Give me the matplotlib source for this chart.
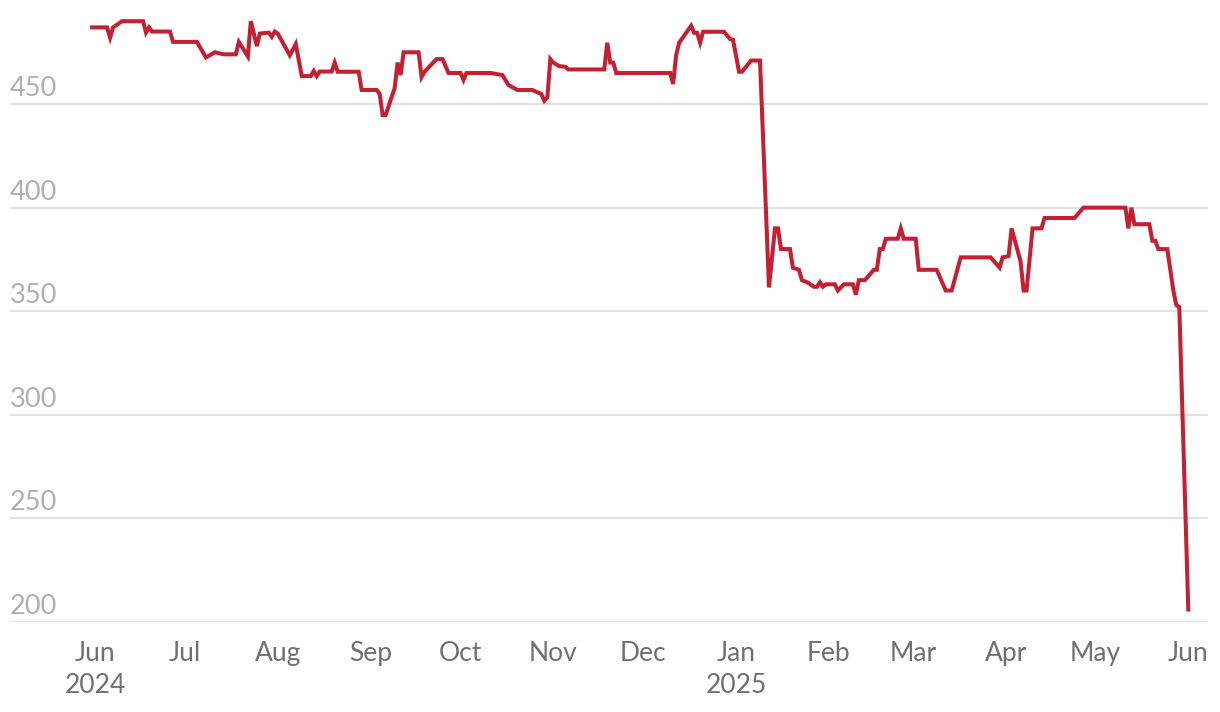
import matplotlib
matplotlib.use("Agg")
import matplotlib.pyplot as plt
import matplotlib.dates as mdates
import matplotlib.transforms as mtransforms
import numpy as np
import pandas as pd

plt.rcParams['font.family'] = ['Lato', 'DejaVu Sans']

dates = [
    "2024-05-31", "2024-06-05", "2024-06-06", "2024-06-07", "2024-06-10", "2024-06-17",
    "2024-06-18", "2024-06-19", "2024-06-20", "2024-06-26", "2024-06-27", "2024-07-05",
    "2024-07-08", "2024-07-11", "2024-07-14", "2024-07-18", "2024-07-19", "2024-07-22",
    "2024-07-23", "2024-07-25", "2024-07-26", "2024-07-29", "2024-07-30", "2024-07-31",
    "2024-08-01", "2024-08-05", "2024-08-07", "2024-08-09", "2024-08-12", "2024-08-13",
    "2024-08-14", "2024-08-15", "2024-08-19", "2024-08-20", "2024-08-21", "2024-08-28",
    "2024-08-29", "2024-09-03", "2024-09-04", "2024-09-05", "2024-09-06", "2024-09-09",
    "2024-09-10", "2024-09-11", "2024-09-12", "2024-09-17", "2024-09-18", "2024-09-19",
    "2024-09-23", "2024-09-25", "2024-09-27", "2024-10-01", "2024-10-02", "2024-10-03",
    "2024-10-11", "2024-10-15", "2024-10-17", "2024-10-18", "2024-10-20", "2024-10-25",
    "2024-10-28", "2024-10-29", "2024-10-30", "2024-10-31", "2024-11-01", "2024-11-03",
    "2024-11-05", "2024-11-06", "2024-11-18", "2024-11-19", "2024-11-20", "2024-11-21",
    "2024-11-22", "2024-12-10", "2024-12-11", "2024-12-12", "2024-12-13", "2024-12-17",
    "2024-12-18", "2024-12-19", "2024-12-20", "2024-12-21", "2024-12-28", "2024-12-30",
    "2024-12-31", "2025-01-02", "2025-01-03", "2025-01-06", "2025-01-09", "2025-01-12",
    "2025-01-14", "2025-01-15", "2025-01-16", "2025-01-19", "2025-01-20", "2025-01-22",
    "2025-01-23", "2025-01-25", "2025-01-27", "2025-01-28", "2025-01-29", "2025-01-30",
    "2025-01-31", "2025-02-03", "2025-02-04", "2025-02-06", "2025-02-09", "2025-02-10",
    "2025-02-11", "2025-02-13", "2025-02-15", "2025-02-16", "2025-02-17", "2025-02-18",
    "2025-02-19", "2025-02-20", "2025-02-24", "2025-02-25", "2025-02-26", "2025-03-02",
    "2025-03-03", "2025-03-09", "2025-03-12", "2025-03-14", "2025-03-17", "2025-03-27",
    "2025-03-30", "2025-03-31", "2025-04-02", "2025-04-03", "2025-04-06", "2025-04-07",
    "2025-04-08", "2025-04-10", "2025-04-13", "2025-04-14", "2025-04-24", "2025-04-27",
    "2025-05-11", "2025-05-12", "2025-05-13", "2025-05-14", "2025-05-19", "2025-05-20",
    "2025-05-21", "2025-05-22", "2025-05-25", "2025-05-27", "2025-05-28", "2025-05-29",
    "2025-06-01",
]

values = [
    487, 487, 482, 487, 490, 490,
    484.5, 487, 485, 485, 480, 480,
    472.5, 475, 474, 474, 480, 473,
    490, 478, 484, 484.5, 482.5, 485,
    484, 473.5, 479, 463.5, 463.5, 466,
    463.5, 465.7, 465.7, 470, 465.6, 465.6,
    456.8, 456.8, 455, 444.7, 444.7, 457.6,
    470, 464, 475, 475, 463, 465.6,
    471.7, 471.7, 465, 465, 461.6, 465,
    465, 464, 459.2, 458.4, 456.8, 456.8,
    454.8, 451.6, 453.2, 471.7, 470, 468.3,
    468, 466.7, 466.7, 479.6, 470, 470,
    465, 465, 459.7, 473.6, 479.6, 487.8,
    484.4, 484.4, 479.6, 484.9, 484.9, 481.4,
    481, 465.6, 465.6, 471, 471, 361.5,
    390, 390, 380, 380, 371, 370,
    365, 363.8, 361.8, 361.8, 364, 361.8,
    363, 363, 360, 363, 363, 358,
    365, 365, 368.3, 370, 370, 380,
    380, 385, 385, 390, 385, 385,
    370, 370, 360, 360, 376, 376,
    371, 376, 376.6, 390, 374, 360,
    360, 390, 390, 395, 395, 400,
    400, 390, 400, 392, 392, 384,
    384, 380, 380, 360, 353, 352,
    206,
]

y_ticks = [200, 250, 300, 350, 400, 450]
x_tick_dates = ["2024-06-01", "2024-07-01", "2024-08-01", "2024-09-01", "2024-10-01",
                "2024-11-01", "2024-12-01", "2025-01-01", "2025-02-01", "2025-03-01",
                "2025-04-01", "2025-05-01", "2025-06-01"]
x_tick_labels = ["Jun\n2024", "Jul", "Aug", "Sep", "Oct", "Nov", "Dec", "Jan\n2025",
                 "Feb", "Mar", "Apr", "May", "Jun"]

x = pd.to_datetime(dates)

fig = plt.figure(figsize=(12.2, 7.12), dpi=100)
ax = fig.add_axes([10 / 1220, 1 - 622 / 712, 1198 / 1220, 612 / 712])

ax.set_xlim(pd.Timestamp("2024-05-03 14:00"), pd.Timestamp("2025-06-07 14:00"))
ax.set_ylim(200, 495.4)

for yt in y_ticks:
    ax.axhline(yt, color="#e2e2e2", lw=1.5, zorder=1)

ax.plot(x, values, color="#c41f33", lw=2.9, solid_joinstyle="miter", zorder=3,
        clip_on=False)

trans = mtransforms.blended_transform_factory(ax.transAxes, ax.transData)
offset = mtransforms.offset_copy(trans, fig=fig, x=0, y=8, units="dots")
for yt in y_ticks:
    ax.text(0, yt, str(yt), transform=offset, ha="left", va="baseline",
            fontsize=19.5, color="#b0b0b0")

ax.set_xticks(pd.to_datetime(x_tick_dates))
ax.set_xticklabels(x_tick_labels, fontsize=19, color="#707070", linespacing=1.35)
ax.tick_params(axis="x", length=0, pad=14)
ax.set_yticks([])
for s in ax.spines.values():
    s.set_visible(False)

fig.savefig("out.png", dpi=100)
